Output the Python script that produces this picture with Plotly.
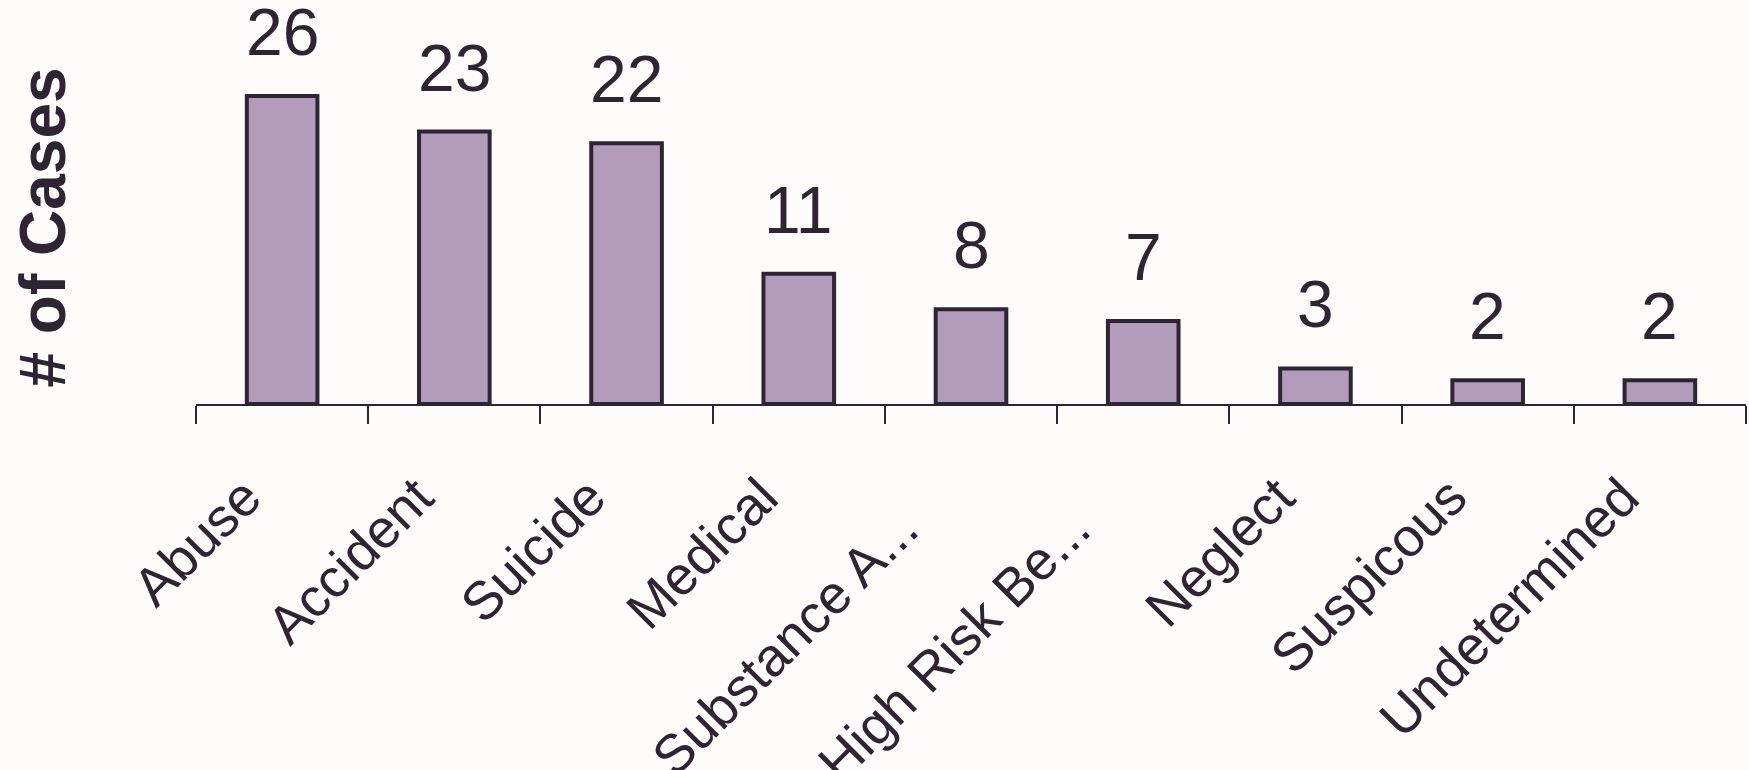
import plotly.graph_objects as go

categories = ["Abuse", "Accident", "Suicide", "Medical", "Substance A...",
              "High Risk Be...", "Neglect", "Suspicous", "Undetermined"]
cases = [26, 23, 22, 11, 8, 7, 3, 2, 2]

# visual trailing padding (in non-breaking spaces) for truncated labels,
# which the reference places further down-left along the diagonal
label_pad = [0, 0, 0, 0, 3, 3, 0, 0, 0]

DARK = "#2e2433"
FILL = "#b39bbc"
BG = "#fdfcfb"
FONT = "Liberation Sans, Arial, sans-serif"

tick_text = [c + "\u00a0" * p for c, p in zip(categories, label_pad)]

fig = go.Figure()
fig.add_trace(go.Bar(
    x=categories, y=cases,
    marker=dict(color=FILL, line=dict(color=DARK, width=4)),
    width=0.41,
    hoverinfo="x+y",
))

annotations = [
    dict(x=c, y=v, xref="x", yref="y", text=str(v), showarrow=False,
         yanchor="bottom", yshift=25,
         font=dict(family=FONT, size=66, color=DARK))
    for c, v in zip(categories, cases)
]
annotations.append(dict(
    x=-0.099, y=0.4356, xref="paper", yref="paper", text="# of Cases",
    textangle=-90, showarrow=False, xanchor="center", yanchor="middle",
    font=dict(family=FONT, size=64, color=DARK, weight="bold"),
))

fig.update_layout(
    width=1749, height=770, autosize=False,
    margin=dict(l=196, r=3, t=0, b=366, pad=0, autoexpand=False),
    paper_bgcolor=BG, plot_bgcolor=BG,
    showlegend=False,
    annotations=annotations,
    xaxis=dict(
        automargin=False,
        tickmode="array", tickvals=categories, ticktext=tick_text,
        showline=True, linecolor=DARK, linewidth=1.5,
        ticks="outside", ticklen=18, tickcolor=DARK, tickwidth=1.5,
        tickson="boundaries", tickangle=-45, ticklabelstandoff=38,
        ticklabelshift=-37,
        tickfont=dict(family=FONT, size=54, color=DARK),
        showgrid=False, zeroline=False,
    ),
    yaxis=dict(
        automargin=False,
        range=[0, 34.1], showticklabels=False, showgrid=False,
        zeroline=False, showline=False, ticks="",
    ),
)

fig.write_html(
    "out.html",
    config={"displayModeBar": False},
    post_script=(
        "document.body.style.margin='0';"
        "document.body.style.padding='0';"
        "document.body.style.backgroundColor='" + BG + "';"
    ),
)
